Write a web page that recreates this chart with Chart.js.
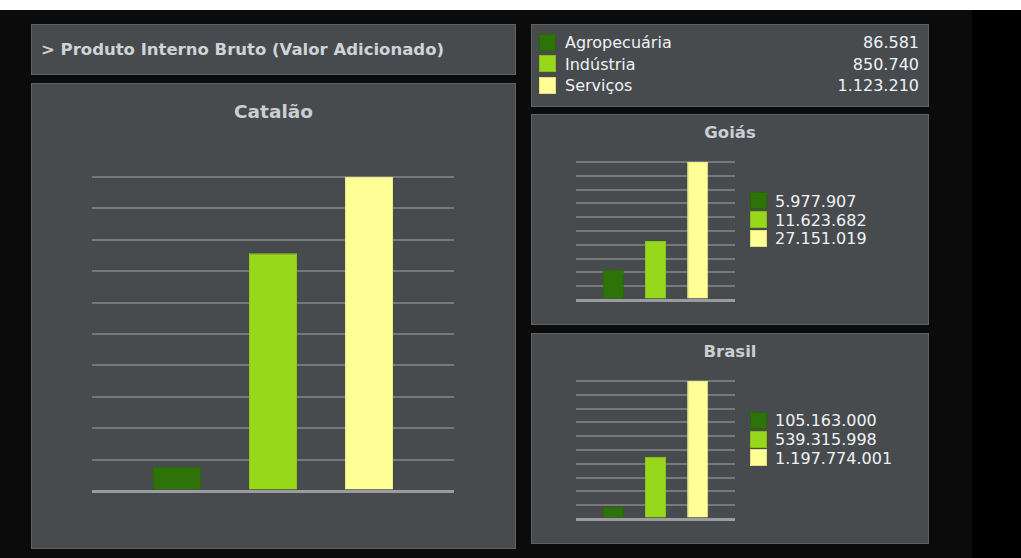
<!DOCTYPE html>
<html>
<head>
<meta charset="utf-8">
<script src="https://cdn.jsdelivr.net/npm/chart.js@4.4.1/dist/chart.umd.min.js"></script>
<style>
  html, body { margin: 0; padding: 0; background: #000; width: 1021px; height: 558px; overflow: hidden; }
  body { font-family: Verdana, "DejaVu Sans", sans-serif; position: relative; }
  .strip { position: absolute; left: 0; top: 0; width: 1021px; height: 10px; background: #fff; }
  .page { position: absolute; left: 0; top: 10px; width: 972px; height: 548px; background: #0b0b0b; }
  .box { position: absolute; box-sizing: border-box; background: #484b4e; border: 1px solid #5e6164; }
  .head { position: absolute; left: 41px; top: 39px; line-height: 21px; font-size: 16.5px; font-weight: bold; color: #cfd3d7; white-space: nowrap; }
  .ttl { position: absolute; text-align: center; line-height: 24px; font-weight: bold; color: #cbcfd3; white-space: nowrap; }
  .lg { position: absolute; font-size: 16px; line-height: 20px; color: #eef2f6; white-space: nowrap; }
  .sw { position: absolute; box-sizing: border-box; width: 17px; height: 17px; border: 1px solid rgba(0,0,0,0.12); }
  canvas { position: absolute; }
</style>
</head>
<body>
<div class="strip"></div>
<div class="page"></div>

<div class="box" style="left:31px;top:24px;width:485px;height:51px"></div>
<div class="head">&gt; Produto Interno Bruto (Valor Adicionado)</div>

<div class="box" style="left:31px;top:83px;width:485px;height:466px"></div>
<div class="ttl" style="left:31px;width:485px;top:100px;font-size:18.5px">Catalão</div>
<canvas id="cat" width="374" height="326" style="left:86px;top:171px"></canvas>

<div class="box" style="left:531px;top:24px;width:398px;height:83px"></div>
<div id="legendTop"></div>

<div class="box" style="left:531px;top:114px;width:398px;height:211px"></div>
<div class="ttl" style="left:531px;width:398px;top:121px;font-size:16.5px">Goiás</div>
<canvas id="go" width="171" height="150" style="left:570px;top:156px"></canvas>
<div id="legendGo"></div>

<div class="box" style="left:531px;top:333px;width:398px;height:211px"></div>
<div class="ttl" style="left:531px;width:398px;top:340px;font-size:16.5px">Brasil</div>
<canvas id="br" width="171" height="150" style="left:570px;top:375px"></canvas>
<div id="legendBr"></div>

<script>
// valor adicionado por setor (R$ mil)
const categories = ['Agropecuária', 'Indústria', 'Serviços'];
const catalao = [86581, 850740, 1123210];
const goias = [5977907, 11623682, 27151019];
const brasil = [105163000, 539315998, 1197774001];
const colors = ['#2e7308', '#98d81a', '#ffff96'];
const borders = ['#2a6808', '#8cc818', '#ecec88'];

function fmt(n) {
  return String(n).replace(/\B(?=(\d{3})+(?!\d))/g, '.');
}

function barChart(id, values) {
  const top = Math.max(...values);
  return new Chart(document.getElementById(id), {
    type: 'bar',
    data: {
      datasets: [{
        data: values.map((v, i) => ({ x: i, y: v })),
        backgroundColor: colors,
        borderColor: borders,
        borderWidth: 1,
        categoryPercentage: 1,
        barPercentage: 0.5
      }]
    },
    options: {
      responsive: false,
      animation: false,
      layout: { padding: 6 },
      plugins: { legend: { display: false }, tooltip: { enabled: false } },
      scales: {
        x: {
          type: 'linear',
          min: -0.885,
          max: 2.885,
          offset: false,
          display: false,
          // one tick per setor, so the bar width follows the category spacing
          afterBuildTicks: s => { s.ticks = categories.map((c, i) => ({ value: i })); }
        },
        y: {
          min: 0,
          max: top,
          ticks: { display: false, count: 11 },
          border: { display: false },
          grid: {
            drawTicks: false,
            color: c => c.tick.value === 0 ? '#9a9c9f' : '#76797c',
            lineWidth: c => c.tick.value === 0 ? 3 : 2
          }
        }
      }
    }
  });
}

barChart('cat', catalao);
barChart('go', goias);
barChart('br', brasil);

// legenda do topo: nome do setor e valor de Catalão
const legendTop = document.getElementById('legendTop');
categories.forEach((name, i) => {
  const y = 33.5 + i * 21.6;
  legendTop.insertAdjacentHTML('beforeend',
    `<div class="sw" style="left:539px;top:${y}px;background:${colors[i]}"></div>` +
    `<div class="lg" style="left:565px;top:${y - 0.5}px">${name}</div>` +
    `<div class="lg" style="right:${1021 - 919}px;top:${y - 0.5}px">${fmt(catalao[i])}</div>`);
});

function sideLegend(id, values, y0) {
  const el = document.getElementById(id);
  values.forEach((v, i) => {
    const y = y0 + i * 18.8;
    el.insertAdjacentHTML('beforeend',
      `<div class="sw" style="left:750px;top:${y}px;background:${colors[i]}"></div>` +
      `<div class="lg" style="left:775px;top:${y - 0.5}px">${fmt(v)}</div>`);
  });
}
sideLegend('legendGo', goias, 192.3);
sideLegend('legendBr', brasil, 411.7);
</script>
</body>
</html>
